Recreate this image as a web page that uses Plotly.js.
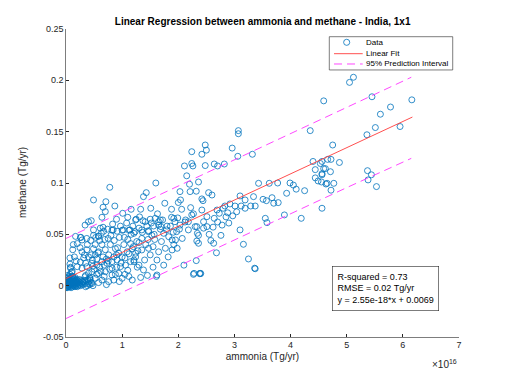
<!DOCTYPE html>
<html>
<head>
<meta charset="utf-8">
<script src="https://cdn.plot.ly/plotly-3.0.1.min.js"></script>
<style>html,body{margin:0;padding:0;background:#fff;}#chart{width:508px;height:380px;}</style>
</head>
<body>
<div id="chart"></div>
<script>
// ammonia in units of 1e16 Tg/yr (axis multiplier shown as x10^16), methane in Tg/yr
const ammonia = [
  // dense cluster near origin
  0.00,0.00,0.01,0.01,0.01,0.02,0.02,0.02,0.03,0.03,0.03,0.04,0.04,0.05,0.05,0.05,0.06,0.06,0.07,0.07,
  0.08,0.08,0.09,0.09,0.10,0.10,0.11,0.11,0.12,0.12,0.13,0.13,0.14,0.14,0.15,0.15,0.16,0.16,0.17,0.17,
  0.18,0.18,0.19,0.19,0.20,0.20,0.21,0.22,0.22,0.23,0.24,0.24,0.25,0.26,0.27,0.28,0.29,0.30,0.31,0.33,
  0.02,0.04,0.06,0.09,0.11,0.14,0.03,0.07,0.12,0.16,
  0.34,0.36,0.38,0.40,0.42,0.45,0.35,0.39,0.43,0.46,
  // low-x strip
  0.07,0.07,0.08,0.10,0.05,0.08,0.11,0.20,0.255,0.315,0.40,0.285,0.37,0.49,0.52,0.58,0.20,0.285,0.37,0.49,
  0.61,0.67,0.17,0.26,0.58,0.12,0.15,0.18,0.13,0.25,
  // x 0.3 - 1.3 lower band
  0.64,0.70,0.76,0.79,0.88,0.94,1.03,1.09,1.18,1.24,0.285,0.37,0.46,0.55,0.64,0.73,0.82,0.91,0.97,1.06,
  1.15,1.21,0.46,0.58,0.70,0.82,0.94,0.34,0.43,0.52,0.64,0.76,0.85,1.00,1.18,0.82,0.91,1.00,1.12,1.21,
  0.40,0.50,0.60,0.66,0.72,0.85,0.90,1.00,1.10,1.27,0.55,0.45,0.35,0.52,0.60,0.75,0.86,0.95,1.10,1.15,
  0.68,0.78,0.88,1.05,1.12,0.95,0.58,0.72,0.40,0.48,
  0.30,0.35,0.42,0.48,0.55,0.62,0.68,0.75,0.82,0.90,0.98,1.05,1.12,1.20,1.28,0.38,0.47,0.57,0.69,0.80,
  0.92,1.04,1.16,1.26,1.36,1.46,1.57,1.68,1.80,1.91,2.02,2.13,0.33,0.44,0.53,0.63,0.74,0.83,0.97,1.08,
  1.19,1.31,1.44,1.52,1.63,1.72,1.86,1.99,2.12,2.22,2.55,2.62,2.70,2.76,2.85,2.90,2.97,2.58,2.68,2.88,
  // x 0.3 - 2.3 upper band
  0.78,0.49,0.71,0.66,0.70,0.87,1.16,1.33,1.51,1.88,2.06,1.01,0.64,0.40,0.45,0.34,0.90,1.10,1.25,1.37,
  1.50,1.59,1.65,1.69,1.56,1.88,1.94,2.03,2.18,2.18,1.97,1.79,0.66,0.84,1.02,1.14,1.23,1.35,1.47,0.49,
  0.26,0.58,1.60,2.26,2.15,2.11,2.20,2.21,1.43,1.38,2.03,2.04,2.00,1.76,
  // x 1.2 - 2.5
  1.24,1.41,1.68,1.65,1.92,2.24,2.30,2.45,2.45,1.30,1.47,1.35,1.53,1.74,1.83,1.89,1.95,2.07,2.34,2.36,
  1.77,1.89,1.98,1.65,1.47,1.35,1.24,1.21,1.62,1.74,1.38,2.10,2.28,2.39,1.62,1.61,1.30,1.42,1.55,1.58,
  1.70,1.50,1.40,1.30,1.55,1.45,1.33,1.82,1.92,
  // x 2.2 - 4.9
  2.24,2.48,2.50,2.42,2.96,3.06,3.32,2.24,2.48,2.64,2.70,2.82,4.40,4.53,4.44,4.59,4.56,4.44,4.49,4.65,
  2.36,2.32,3.43,3.62,3.77,3.99,4.05,4.10,4.25,3.93,2.54,2.60,3.10,3.19,3.34,3.51,3.57,3.67,3.70,3.78,
  2.42,2.44,2.27,2.42,2.83,2.80,2.92,3.01,3.12,3.29,3.37,3.19,3.04,2.69,2.64,2.51,2.73,2.33,2.51,2.78,
  3.55,3.58,3.89,4.19,3.10,2.33,2.36,2.63,3.16,3.25,3.36,3.37,2.32,2.27,2.38,2.40,
  // high values
  3.07,3.07,4.35,5.05,5.12,4.59,5.45,5.78,6.16,5.60,5.51,5.95,5.36,4.75,4.56,4.66,4.72,4.87,4.62,4.71,
  4.56,4.55,4.63,4.77,4.72,5.37,5.44,5.38,5.53,4.56
];
const methane = [
  0.001,-0.002,0.003,0.000,-0.001,0.005,0.002,-0.002,0.004,0.001,-0.001,0.003,0.000,0.006,0.002,-0.001,0.004,0.001,0.003,-0.001,
  0.005,0.001,0.002,-0.002,0.004,0.000,0.006,0.002,0.003,-0.001,0.005,0.001,0.004,0.000,0.006,0.002,0.003,-0.001,0.005,0.001,
  0.004,0.000,0.002,0.006,0.003,-0.001,0.005,0.002,0.000,0.004,0.001,0.006,0.003,0.000,0.005,0.002,0.004,0.001,0.003,0.005,
  0.007,0.008,0.007,0.008,0.009,0.007,0.010,0.011,0.009,0.008,
  0.002,0.005,0.000,0.004,0.001,0.003,-0.001,0.006,0.007,0.002,
  0.027,0.021,0.017,0.013,0.009,0.018,0.014,0.0185,0.023,0.027,0.028,0.033,0.035,0.036,0.030,0.033,0.041,0.0445,0.046,0.049,
  0.056,0.053,0.048,0.047,0.048,0.035,0.028,0.024,0.040,0.037,
  0.040,0.035,0.030,0.040,0.036,0.0316,0.040,0.033,0.036,0.028,0.017,0.0185,0.0218,0.020,0.0234,0.0218,0.0234,0.025,0.0185,0.020,
  0.0234,0.025,0.0136,0.012,0.0136,0.0104,0.012,0.0088,0.0055,0.0072,0.0055,0.0039,0.0055,0.0072,0.0055,0.054,0.053,0.054,0.054,0.051,
  0.012,0.016,0.018,0.028,0.026,0.028,0.018,0.028,0.015,0.018,0.026,0.030,0.022,0.040,0.044,0.046,0.044,0.047,0.045,0.041,
  0.009,0.016,0.011,0.011,0.009,0.004,0.003,0.001,0.002,0.000,
  0.004,0.010,0.008,0.019,0.011,0.014,0.020,0.024,0.017,0.030,0.022,0.027,0.031,0.038,0.034,0.040,0.025,0.032,0.045,0.049,
  0.037,0.047,0.050,0.043,0.052,0.045,0.050,0.055,0.058,0.052,0.055,0.064,0.030,0.044,0.047,0.051,0.055,0.060,0.058,0.061,
  0.058,0.067,0.058,0.061,0.070,0.064,0.058,0.066,0.062,0.076,0.050,0.057,0.062,0.049,0.067,0.061,0.068,0.044,0.032,0.071,
  0.0958,0.0835,0.0818,0.0764,0.0721,0.0776,0.0744,0.0744,0.0754,0.0744,0.0744,0.0705,0.0666,0.0623,0.0633,0.059,0.0647,0.0666,0.0647,0.0633,
  0.0647,0.0656,0.0623,0.0575,0.0581,0.0666,0.0623,0.059,0.0623,0.0543,0.0526,0.0543,0.0569,0.0543,0.0543,0.0543,0.0526,0.0543,0.0536,0.0543,
  0.047,0.0484,0.100,0.1166,0.107,0.1166,0.0988,0.0916,0.0906,0.0867,0.0916,0.0835,0.081,0.0803,
  0.064,0.0623,0.064,0.059,0.0656,0.0689,0.0575,0.0623,0.056,0.056,0.0526,0.046,0.049,0.051,0.0477,0.0445,0.0445,0.046,0.051,0.0413,
  0.0364,0.0348,0.0364,0.033,0.0364,0.0348,0.0316,0.0234,0.025,0.020,0.0153,0.020,0.012,0.012,0.0104,0.009,0.042,0.040,0.038,0.045,
  0.043,0.030,0.025,0.020,0.018,0.010,0.008,0.028,0.040,
  0.1305,0.137,0.132,0.128,0.134,0.126,0.128,0.119,0.117,0.1185,0.1166,0.1185,0.121,0.119,0.113,0.114,0.109,0.105,0.102,0.0997,
  0.101,0.092,0.0997,0.0997,0.100,0.100,0.098,0.094,0.0925,0.090,0.0906,0.0883,0.0874,0.0835,0.0867,0.0841,0.0828,0.0857,0.0803,0.0809,
  0.0845,0.0828,0.070,0.0737,0.0776,0.0754,0.0796,0.0776,0.0776,0.0776,0.0776,0.0754,0.072,0.0737,0.0656,0.0672,0.0705,0.0575,0.0575,0.059,
  0.0656,0.0614,0.0689,0.0656,0.0543,0.0435,0.049,0.0413,0.0403,0.026,0.017,0.0165,0.0244,0.011,0.0117,0.0118,
  0.151,0.148,0.151,0.198,0.203,0.180,0.184,0.174,0.181,0.167,0.154,0.155,0.147,0.137,0.121,0.123,0.123,0.120,0.114,0.111,
  0.108,0.101,0.099,0.0997,0.093,0.112,0.108,0.103,0.0965,0.0754
];
// fit: y = 2.55e-18*x + 0.0069  (x in Tg/yr) -> slope 0.0255 per 1e16
const fitSlope = 0.0255;
const fitIntercept = 0.0069;
const fitRange = [0, 6.17];
// 95% prediction interval
const piX = [0, 1, 2, 3, 4, 5, 6.15];
const piUpper = [0.0460, 0.0714, 0.0969, 0.1225, 0.1480, 0.1736, 0.2030];
const piLower = [-0.0320, -0.0064, 0.0191, 0.0445, 0.0700, 0.0955, 0.1240];
const xTickVals = [0,1,2,3,4,5,6,7];
const xTickText = ['0','1','2','3','4','5','6','7'];
const yTickVals = [-0.05,0,0.05,0.1,0.15,0.2,0.25];
const yTickText = ['-0.05','0','0.05','0.1','0.15','0.2','0.25'];
const legendLabels = ['Data','Linear Fit','95% Prediction Interval'];
const statsLines = ['R-squared = 0.73','RMSE = 0.02 Tg/yr','y = 2.55e-18*x + 0.0069'];

const FONT = 'Liberation Sans, Arial, Helvetica, sans-serif';
const AX = '#262626';
const BLUE = '#0072BD', RED = '#ff3b3b', MAG = '#ff33ff';
const DASH = '8px,5px';
const fitY = fitRange.map(v => fitSlope * v + fitIntercept);

const traces = [
  {x: ammonia, y: methane, type: 'scatter', mode: 'markers', name: legendLabels[0], showlegend: false,
   marker: {symbol: 'circle-open', size: 6, color: BLUE, line: {width: 0.8, color: BLUE}}},
  {x: fitRange, y: fitY, type: 'scatter', mode: 'lines', name: legendLabels[1], showlegend: false,
   line: {color: RED, width: 0.9}},
  {x: piX, y: piUpper, type: 'scatter', mode: 'lines', name: legendLabels[2], showlegend: false,
   line: {color: MAG, width: 0.9, dash: DASH}},
  {x: piX, y: piLower, type: 'scatter', mode: 'lines', name: 'lower', showlegend: false,
   line: {color: MAG, width: 0.9, dash: DASH}}
];

// compact MATLAB-style legend box (paper coordinates of the plot area)
const L = {x0: 0.670, x1: 0.984, y0: 0.867, y1: 0.975, symX0: 0.682, symX1: 0.755, textX: 0.757,
           rows: [0.9568, 0.9198, 0.8864]};
const shapes = [
  {type: 'rect', xref: 'paper', yref: 'paper', x0: L.x0, x1: L.x1, y0: L.y0, y1: L.y1,
   line: {color: AX, width: 0.6}, fillcolor: '#fff', layer: 'above'},
  {type: 'circle', xref: 'paper', yref: 'paper', x0: 0.7142 - 0.0078, x1: 0.7142 + 0.0078,
   y0: L.rows[0] - 0.0099, y1: L.rows[0] + 0.0099, line: {color: BLUE, width: 0.8}, layer: 'above'},
  {type: 'line', xref: 'paper', yref: 'paper', x0: L.symX0, x1: L.symX1, y0: L.rows[1], y1: L.rows[1],
   line: {color: RED, width: 0.9}, layer: 'above'},
  {type: 'line', xref: 'paper', yref: 'paper', x0: L.symX0, x1: L.symX1, y0: L.rows[2], y1: L.rows[2],
   line: {color: MAG, width: 0.9, dash: DASH}, layer: 'above'}
];

const annotations = legendLabels.map((t, i) => ({
  xref: 'paper', yref: 'paper', x: L.textX, y: L.rows[i], xanchor: 'left', yanchor: 'middle',
  text: t, showarrow: false, font: {size: 8, color: '#000'}
}));
annotations.push(
  {xref: 'paper', yref: 'paper', x: 0.678, y: 0.2315, xanchor: 'left', yanchor: 'top',
   text: statsLines.join('<br>'), align: 'left', showarrow: false,
   bordercolor: AX, borderwidth: 0.6, borderpad: 5, bgcolor: '#fff',
   font: {size: 9, color: '#000'}},
  {xref: 'paper', yref: 'paper', x: 1.0, y: 0, xanchor: 'right', yanchor: 'top', yshift: -19,
   text: '×10<sup>16</sup>', showarrow: false, font: {size: 10, color: AX}},
  {xref: 'paper', yref: 'paper', x: 0, y: 0.5, xanchor: 'center', yanchor: 'middle', xshift: -44,
   text: 'methane (Tg/yr)', textangle: -90, showarrow: false, font: {size: 10, color: AX}}
);

const layout = {
  width: 508, height: 380,
  margin: {l: 66, r: 49, t: 29, b: 43},
  paper_bgcolor: '#fff', plot_bgcolor: '#fff',
  font: {family: FONT, size: 9, color: AX},
  showlegend: false,
  title: {text: '<b>Linear Regression between ammonia and methane - India, 1x1</b>',
          font: {family: FONT, size: 10, color: '#000'}, x: 0.517, xanchor: 'center', y: 0.943, yanchor: 'middle'},
  xaxis: {range: [0, 7], tickvals: xTickVals, ticktext: xTickText, ticks: 'inside', ticklen: 3,
          tickcolor: AX, showline: true, linecolor: AX, linewidth: 0.6, showgrid: false, zeroline: false,
          tickfont: {size: 9, color: AX}, title: {text: 'ammonia (Tg/yr)', font: {size: 10, color: AX}, standoff: 3}},
  yaxis: {range: [-0.05, 0.25], tickvals: yTickVals, ticktext: yTickText, ticks: 'inside', ticklen: 3,
          tickcolor: AX, showline: true, linecolor: AX, linewidth: 0.6, showgrid: false, zeroline: false,
          tickfont: {size: 9, color: AX}},
  shapes: shapes,
  annotations: annotations
};

Plotly.newPlot('chart', traces, layout, {staticPlot: true, displayModeBar: false});
</script>
</body>
</html>
